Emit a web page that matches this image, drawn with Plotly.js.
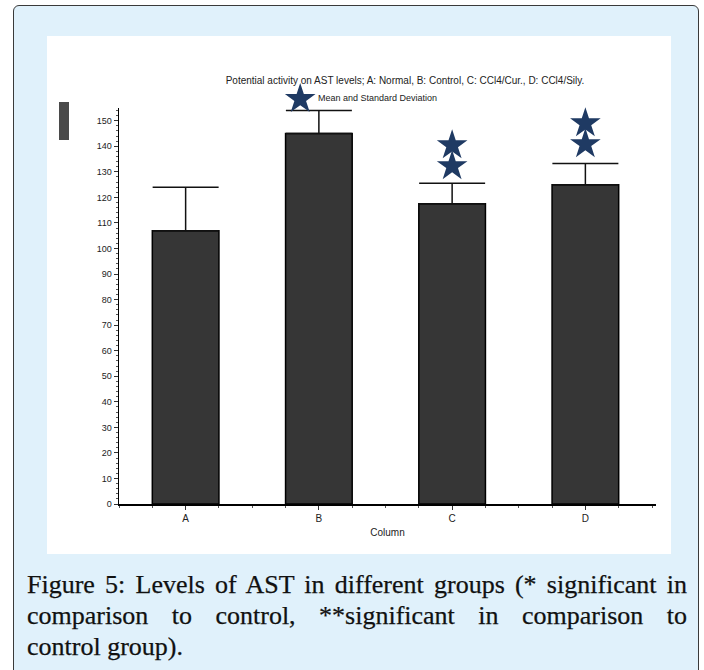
<!DOCTYPE html>
<html>
<head>
<meta charset="utf-8">
<script src="https://cdn.plot.ly/plotly-3.0.1.min.js"></script>
<style>
  html, body { margin:0; padding:0; width:704px; height:670px; overflow:hidden; background:#ffffff; }
  #frame { position:absolute; left:13px; top:5px; width:686px; height:720px; background:#e0f1fb;
           border:1px solid #3a3a3a; border-radius:6px; box-sizing:border-box; }
  #panel { position:absolute; left:47px; top:36px; width:624px; height:518px; background:#ffffff; }
  #caption { position:absolute; left:27px; top:569px; width:660px; font-family:"Liberation Serif","Times New Roman",serif;
             font-size:26px; line-height:31px; color:#111; -webkit-text-stroke:0.25px #111; }
  #caption .j { text-align:justify; text-align-last:justify; }
  #chart { position:absolute; left:0; top:0; width:704px; height:670px; }
</style>
</head>
<body>
<div id="frame"></div>
<div id="panel"></div>
<div id="caption">
  <div class="j">Figure 5: Levels of AST in different groups (* significant in</div>
  <div class="j">comparison to control, **significant in comparison to</div>
  <div>control group).</div>
</div>
<div id="chart"></div>
<script>
// ---- data ----
const categories = ["A", "B", "C", "D"];
const catPos = [0, 1, 2, 3];
const means = [107, 145, 117.5, 125];
const sds = [17, 9, 8, 8.3];
const sdMinus = [0, 0, 0, 0];
// significance stars (data coordinates)
const starX = [0.86, 2, 2, 3, 3];
const starY = [158.5, 132.2, 140.4, 140.8, 149];

const chartTitle = "Potential activity on AST levels; A: Normal, B: Control, C: CCl4/Cur., D: CCl4/Sily.";
const subTitle = "Mean and Standard Deviation";
const xTitle = "Column";

const yMax = 155;          // top of the visible value axis
const yMaxStars = 162.8;   // extended scale for the star overlay (same px/unit)

const narrow = "Liberation Sans Narrow, Arial Narrow, Liberation Sans, Arial, sans-serif";

// geometry of the plotting area (px)
const L = 119, R = 48, T = 88, B = 166;
const plotH = 670 - T - B;
const plotW = 704 - L - R;
const axisTopFrac = (504 - 108) / plotH;
const px2py = p => (670 - B - p) / plotH;
const px2px = p => (p - L) / plotW;

const traces = [
  {
    type: "bar",
    x: catPos,
    y: means,
    width: 0.5,
    marker: { color: "#363636", line: { color: "#000000", width: 1.5 } },
    error_y: { type: "data", symmetric: false, array: sds, arrayminus: sdMinus,
               color: "#111111", thickness: 1.5, width: 33 },
    hoverinfo: "none",
    showlegend: false
  },
  {
    type: "scatter",
    mode: "markers",
    x: starX,
    y: starY,
    yaxis: "y2",
    marker: { symbol: "star", size: 23, color: "#1f3a63", line: { width: 0 } },
    cliponaxis: false,
    hoverinfo: "none",
    showlegend: false
  }
];

const layout = {
  width: 704,
  height: 670,
  margin: { l: L, r: R, t: T, b: B },
  paper_bgcolor: "rgba(0,0,0,0)",
  plot_bgcolor: "rgba(0,0,0,0)",
  showlegend: false,
  title: {
    text: chartTitle,
    font: { family: narrow, size: 10, color: "#222" },
    x: px2px(405), xref: "paper", xanchor: "center",
    y: 1 - 80.7 / 670, yref: "container", yanchor: "middle"
  },
  xaxis: {
    range: [-0.5, 3.53],
    tickvals: catPos,
    ticktext: categories,
    showline: true, linecolor: "#000", linewidth: 1.5,
    ticks: "outside", ticklen: 4, tickcolor: "#333", tickwidth: 1,
    minor: { dtick: 0.25, tick0: 0, ticks: "outside", ticklen: 2, tickcolor: "#555" },
    showgrid: false, zeroline: false,
    tickfont: { family: narrow, size: 10, color: "#222" },
    title: { text: xTitle, font: { family: narrow, size: 10, color: "#222" }, standoff: 6 },
    fixedrange: true
  },
  yaxis: {
    domain: [0, axisTopFrac],
    range: [0, yMax],
    dtick: 10, tick0: 0,
    showline: true, linecolor: "#000", linewidth: 1.5,
    ticks: "outside", ticklen: 4, tickcolor: "#333", tickwidth: 1,
    minor: { dtick: 2, ticks: "outside", ticklen: 2, tickcolor: "#555" },
    showgrid: false, zeroline: false,
    tickfont: { family: narrow, size: 9, color: "#222" },
    fixedrange: true
  },
  yaxis2: {
    domain: [0, 1],
    range: [0, yMaxStars],
    anchor: "x",
    visible: false,
    showgrid: false, zeroline: false,
    fixedrange: true
  },
  annotations: [
    {
      text: subTitle, xref: "paper", yref: "paper",
      x: px2px(316), y: px2py(98),
      xanchor: "left", yanchor: "middle", showarrow: false,
      font: { family: narrow, size: 9, color: "#222" }
    }
  ],
  shapes: [
    {
      type: "rect", xref: "paper", yref: "paper",
      x0: px2px(59), x1: px2px(69),
      y0: px2py(140), y1: px2py(102),
      fillcolor: "#4a4a4a", line: { width: 0 }
    }
  ]
};

Plotly.newPlot("chart", traces, layout, { staticPlot: true, displayModeBar: false });
</script>
</body>
</html>
